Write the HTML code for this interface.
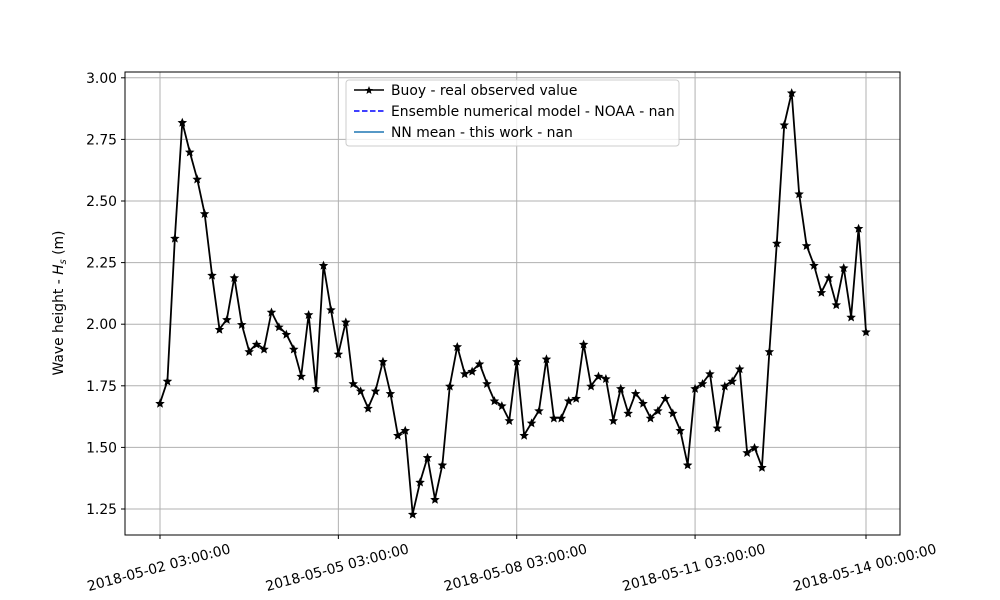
<!DOCTYPE html>
<html><head><meta charset="utf-8"><style>
body{margin:0;background:#fff}
svg{display:block;font-family:"DejaVu Sans","Liberation Sans",sans-serif}
</style></head><body>
<svg id="chart" width="1000" height="600" viewBox="0 0 1000 600">
<rect width="1000" height="600" fill="#fff"/>
<g id="grid"></g>
<g id="series"></g>
<rect x="125" y="72" width="775" height="463" fill="none" stroke="#000" stroke-width="1"/>
<g id="axes"></g>
<text transform="translate(63,303) rotate(-90)" text-anchor="middle" font-size="13.9">Wave height - <tspan font-style="italic">H</tspan><tspan font-style="italic" font-size="9.7" dy="3">s</tspan><tspan dy="-3"> (m)</tspan></text>
<g>
<rect x="346" y="80" width="333" height="66" rx="3" fill="#fff" fill-opacity="0.8" stroke="#ccc"/>
<g>
<line x1="354" y1="90" x2="384" y2="90" stroke="#000" stroke-width="1.5"/>
<path d="M369,86 L370.1,88.9 L373,89.1 L370.8,91 L371.5,94 L369,92.4 L366.5,94 L367.2,91 L365,89.1 L367.9,88.9 Z" fill="#000"/>
<text x="391" y="95" font-size="13.9">Buoy - real observed value</text></g>
<g>
<line x1="354" y1="111" x2="384" y2="111" stroke="#0000ff" stroke-width="1.5" stroke-dasharray="5.5,2.5"/>
<text x="391" y="116" font-size="13.9">Ensemble numerical model - NOAA - nan</text></g>
<g>
<line x1="354" y1="132" x2="384" y2="132" stroke="#1f77b4" stroke-width="1.5"/>
<text x="391" y="137" font-size="13.9">NN mean - this work - nan</text></g>
</g>
</svg>
<script>
const buoyValues=[1.68,1.77,2.35,2.82,2.70,2.59,2.45,2.20,1.98,2.02,2.19,2.00,1.89,1.92,1.90,2.05,1.99,1.96,1.90,1.79,2.04,1.74,2.24,2.06,1.88,2.01,1.76,1.73,1.66,1.73,1.85,1.72,1.55,1.57,1.23,1.36,1.46,1.29,1.43,1.75,1.91,1.80,1.81,1.84,1.76,1.69,1.67,1.61,1.85,1.55,1.60,1.65,1.86,1.62,1.62,1.69,1.70,1.92,1.75,1.79,1.78,1.61,1.74,1.64,1.72,1.68,1.62,1.65,1.70,1.64,1.57,1.43,1.74,1.76,1.80,1.58,1.75,1.77,1.82,1.48,1.50,1.42,1.89,2.33,2.81,2.94,2.53,2.32,2.24,2.13,2.19,2.08,2.23,2.03,2.39,1.97];
const yTicks=[1.25,1.50,1.75,2.00,2.25,2.50,2.75,3.00];
const xTickLabels=["2018-05-02 03:00:00","2018-05-05 03:00:00","2018-05-08 03:00:00","2018-05-11 03:00:00","2018-05-14 00:00:00"];
const xTickIndex=[0,24,48,72,95];
const NS="http://www.w3.org/2000/svg";
function xs(i){return 160+i*(706/95);}
function ys(v){return 509-(v-1.25)/0.25*61.6;}
function mk(tag,attrs,parent){const e=document.createElementNS(NS,tag);for(const k in attrs)e.setAttribute(k,attrs[k]);parent.appendChild(e);return e;}
const grid=document.getElementById('grid'),axes=document.getElementById('axes'),series=document.getElementById('series');
yTicks.forEach(t=>{const y=ys(t);
const g=mk('line',{x1:125,x2:900,y1:y,y2:y,stroke:'#b0b0b0','stroke-width':1},grid);


mk('line',{x1:121,x2:125,y1:y,y2:y,stroke:'#000'},axes);
const tx=mk('text',{x:117,y:y+5,'text-anchor':'end','font-size':13.9},axes);


tx.textContent=t.toFixed(2);});
xTickIndex.forEach((idx,k)=>{const x=xs(idx);
const g=mk('line',{x1:x,x2:x,y1:72,y2:535,stroke:'#b0b0b0','stroke-width':1},grid);


mk('line',{x1:x,x2:x,y1:535,y2:539,stroke:'#000'},axes);
const tx=mk('text',{transform:`translate(${x},${572}) rotate(-15)`,'text-anchor':'middle','font-size':13.9},axes);


tx.textContent=xTickLabels[k];});
const pts=buoyValues.map((v,i)=>[xs(i),ys(v)]);
const line=mk('polyline',{points:pts.map(p=>p.join(',')).join(' '),fill:'none',stroke:'#000','stroke-width':1.8,'stroke-linejoin':'round'},series);


function star(cx,cy,r){let d='';for(let j=0;j<10;j++){const rr=j%2?r*0.45:r;const a=-Math.PI/2+j*Math.PI/5;d+=(j?'L':'M')+(cx+rr*Math.cos(a)).toFixed(2)+','+(cy+rr*Math.sin(a)).toFixed(2);}return d+'Z';}
pts.forEach(p=>{const s=mk('path',{d:star(p[0],p[1]+0.6,5),fill:'#000'},series);

});
</script>
</body></html>
